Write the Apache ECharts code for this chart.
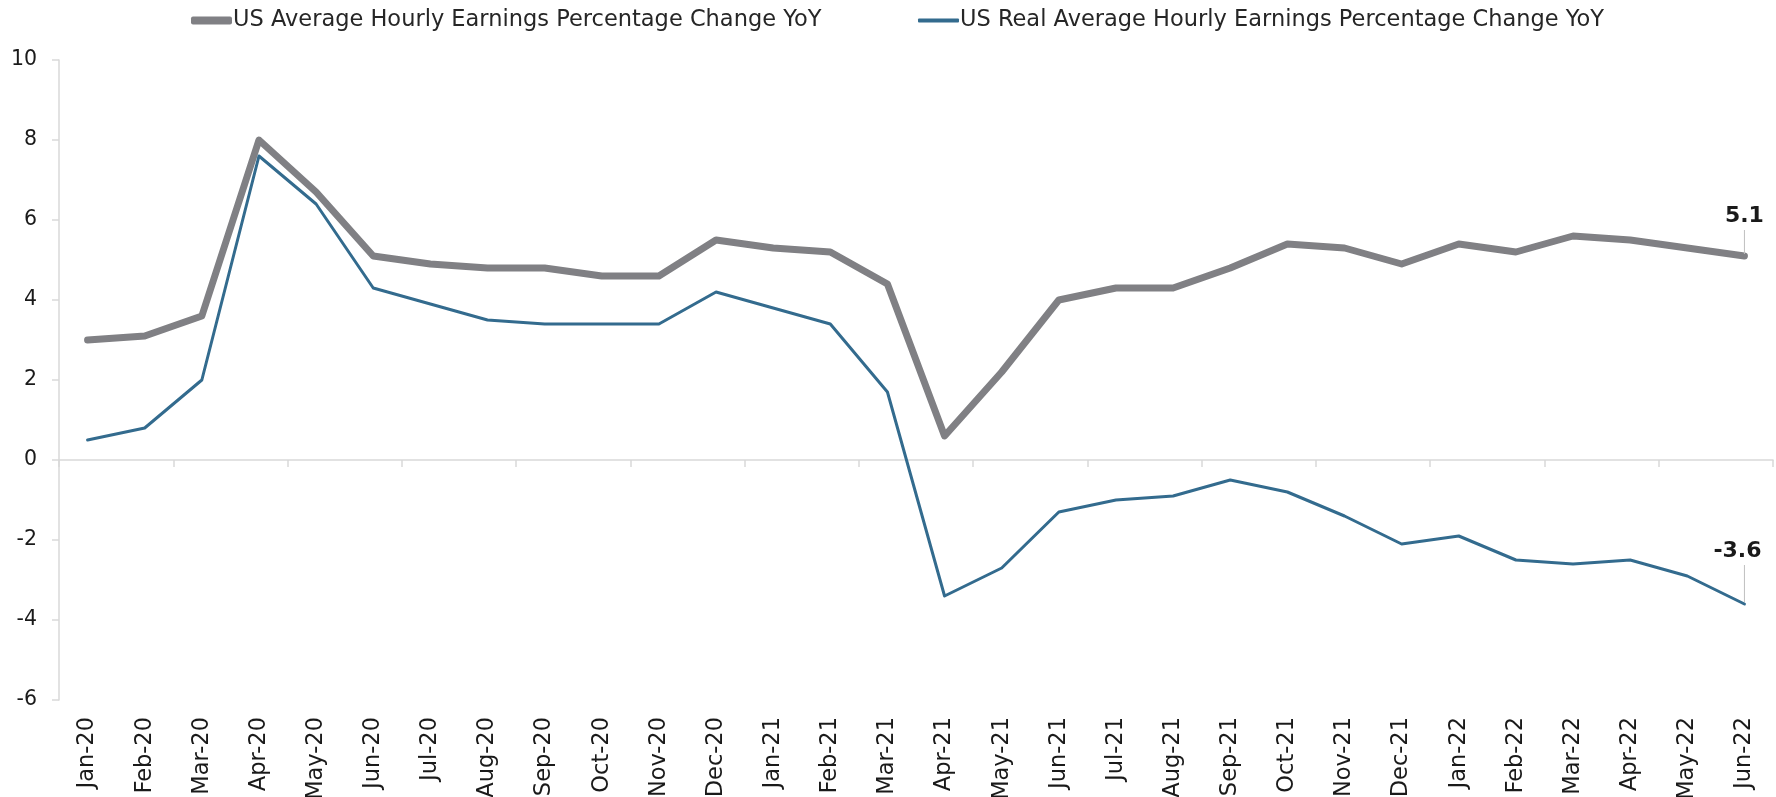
<!DOCTYPE html>
<html>
<head>
<meta charset="utf-8">
<script src="https://cdn.jsdelivr.net/npm/echarts@6/dist/echarts.min.js"></script>
<style>
  html, body { margin: 0; padding: 0; background: #fff; }
  #chart { width: 1776px; height: 797px; }
</style>
</head>
<body>
<div id="chart"></div>
<script>
// month labels on the x axis
const months = [
  'Jan-20', 'Feb-20', 'Mar-20', 'Apr-20', 'May-20', 'Jun-20', 'Jul-20', 'Aug-20', 'Sep-20', 'Oct-20',
  'Nov-20', 'Dec-20', 'Jan-21', 'Feb-21', 'Mar-21', 'Apr-21', 'May-21', 'Jun-21', 'Jul-21', 'Aug-21',
  'Sep-21', 'Oct-21', 'Nov-21', 'Dec-21', 'Jan-22', 'Feb-22', 'Mar-22', 'Apr-22', 'May-22', 'Jun-22'
];

// nominal earnings, % YoY
const avgEarnings = [
  3.0, 3.1, 3.6, 8.0, 6.7, 5.1, 4.9, 4.8, 4.8, 4.6,
  4.6, 5.5, 5.3, 5.2, 4.4, 0.6, 2.2, 4.0, 4.3, 4.3,
  4.8, 5.4, 5.3, 4.9, 5.4, 5.2, 5.6, 5.5, 5.3, 5.1
];

// real earnings, % YoY
const realEarnings = [
  0.5, 0.8, 2.0, 7.6, 6.4, 4.3, 3.9, 3.5, 3.4, 3.4,
  3.4, 4.2, 3.8, 3.4, 1.7, -3.4, -2.7, -1.3, -1.0, -0.9,
  -0.5, -0.8, -1.4, -2.1, -1.9, -2.5, -2.6, -2.5, -2.9, -3.6
];

const yTicks = { min: -6, max: 10, interval: 2 };

const NAME_AVG = 'US Average Hourly Earnings Percentage Change YoY';
const NAME_REAL = 'US Real Average Hourly Earnings Percentage Change YoY';

const GRAY = '#808084';
const BLUE = '#336b8e';
const AXIS = '#d9d9d9';
const FONT = 'DejaVu Sans';

// only the last point gets a label; the leader line is drawn as a thin rich-text box
// shift: how far the text sits left of the point, lineLen: leader length
function endLabels(arr, shift, lineLen) {
  const last = arr.length - 1;
  const leader = shift > 0 ? '{s| }{l| }' : '{l| }';
  return arr.map((v, i) => i === last ? {
    value: v,
    label: {
      show: true,
      position: 'top',
      distance: 2,
      offset: [-shift, 0],
      formatter: '{v|{c}}\n' + leader,
      rich: {
        v: { fontFamily: FONT, fontSize: 22, fontWeight: 'bold', color: '#1a1a1a', lineHeight: 28 },
        s: { width: shift * 2, height: lineLen, fontSize: 1, lineHeight: lineLen },
        l: { width: 1, height: lineLen, fontSize: 1, lineHeight: lineLen, backgroundColor: '#bfbfbf' }
      }
    }
  } : v);
}

function legendBox(name, left, h, color) {
  return {
    left: left,
    top: 4,
    itemWidth: 41,
    itemHeight: h,
    icon: 'roundRect',
    itemStyle: { color: color },
    textStyle: { fontFamily: FONT, fontSize: 22.5, color: '#262626', padding: [0, 0, 0, -4] },
    data: [name]
  };
}

const chart = echarts.init(document.getElementById('chart'), null, { renderer: 'canvas' });

chart.setOption({
  animation: false,
  textStyle: { fontFamily: FONT },
  legend: [
    legendBox(NAME_AVG, 186, 8, GRAY),
    legendBox(NAME_REAL, 913, 4, BLUE)
  ],
  grid: { left: 59, right: 3, top: 60, bottom: 97, containLabel: false, outerBoundsMode: 'none' },
  xAxis: [
    {
      // line at zero with the tick marks
      type: 'category',
      data: months,
      boundaryGap: true,
      axisLine: { show: true, onZero: true, lineStyle: { color: AXIS, width: 1.5 } },
      axisTick: { show: true, length: 7, lineStyle: { color: AXIS, width: 1.5 } },
      axisLabel: { show: false },
      splitLine: { show: false }
    },
    {
      // labels kept at the bottom of the plot
      type: 'category',
      data: months,
      position: 'bottom',
      boundaryGap: true,
      axisLine: { show: false, onZero: false },
      axisTick: { show: false },
      axisLabel: {
        show: true,
        rotate: 90,
        interval: 0,
        margin: 17,
        fontFamily: FONT,
        fontSize: 22.5,
        color: '#1a1a1a'
      },
      splitLine: { show: false }
    }
  ],
  yAxis: {
    type: 'value',
    min: yTicks.min,
    max: yTicks.max,
    interval: yTicks.interval,
    axisLine: { show: true, lineStyle: { color: AXIS, width: 1.5 } },
    axisTick: { show: true, length: 7, lineStyle: { color: AXIS, width: 1.5 } },
    axisLabel: { fontFamily: FONT, fontSize: 20.5, color: '#1a1a1a', margin: 22 },
    splitLine: { show: false }
  },
  series: [
    {
      name: NAME_AVG,
      type: 'line',
      xAxisIndex: 0,
      data: endLabels(avgEarnings, 0, 24),
      symbol: 'circle',
      symbolSize: 0,
      showSymbol: true,
      lineStyle: { color: GRAY, width: 7, cap: 'round', join: 'round' },
      itemStyle: { color: GRAY },
      z: 2
    },
    {
      name: NAME_REAL,
      type: 'line',
      xAxisIndex: 0,
      data: endLabels(realEarnings, 7, 37),
      symbol: 'circle',
      symbolSize: 0,
      showSymbol: true,
      lineStyle: { color: BLUE, width: 3, cap: 'round', join: 'round' },
      itemStyle: { color: BLUE },
      z: 3
    }
  ]
});
</script>
</body>
</html>
